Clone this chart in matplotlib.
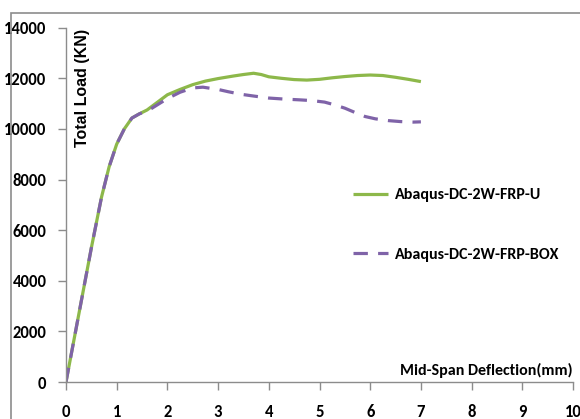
import matplotlib
matplotlib.use("Agg")
import matplotlib.pyplot as plt
from matplotlib.patches import Rectangle

FONT = ["Carlito", "DejaVu Sans"]

# Data
defl_u = [0, 0.25, 0.5, 0.7, 0.85, 1.0, 1.15, 1.3, 1.45, 1.6, 1.8, 2.0, 2.25, 2.5, 2.75, 3.0, 3.3, 3.5, 3.7, 3.85, 4.0, 4.25, 4.5, 4.75, 5.0, 5.25, 5.5, 5.75, 6.0, 6.25, 6.5, 6.75, 7.0]
load_u = [0, 2650, 5300, 7300, 8500, 9400, 10000, 10430, 10600, 10750, 11050, 11350, 11560, 11750, 11890, 11990, 12090, 12150, 12200, 12150, 12060, 12000, 11950, 11930, 11960, 12020, 12070, 12110, 12130, 12110, 12040, 11960, 11870]

defl_box = [0, 0.25, 0.5, 0.7, 0.85, 1.0, 1.15, 1.3, 1.45, 1.6, 1.8, 2.0, 2.25, 2.5, 2.7, 3.0, 3.2, 3.45, 3.7, 4.0, 4.3, 4.6, 4.85, 5.1, 5.3, 5.5, 5.7, 5.9, 6.1, 6.35, 6.6, 6.85, 7.0]
load_box = [0, 2650, 5300, 7300, 8500, 9400, 10000, 10430, 10600, 10700, 10950, 11200, 11450, 11620, 11650, 11560, 11470, 11370, 11300, 11220, 11180, 11150, 11120, 11060, 10950, 10820, 10650, 10490, 10400, 10330, 10290, 10270, 10280]

labels = ["Abaqus-DC-2W-FRP-U", "Abaqus-DC-2W-FRP-BOX"]
x_ticks = list(range(0, 11))
y_ticks = list(range(0, 14001, 2000))

W, H = 580, 419
fig = plt.figure(figsize=(W / 100, H / 100), dpi=100)
fig.patch.set_facecolor("white")

# outer chart frame
fig.patches.append(Rectangle((11 / W, -0.1), 1.2, 1 - 13 / H + 0.1, transform=fig.transFigure,
                             fill=False, edgecolor="#8c8c8c", linewidth=1.2, zorder=0))

ax = fig.add_axes([66 / W, (H - 382) / H, (573 - 66) / W, (382 - 27.7) / H])
ax.set_facecolor("none")

green = "#8DB84A"
purple = "#7F63A8"
ax.plot(defl_u, load_u, color=green, lw=2.3, label=labels[0], solid_capstyle="butt")
ax.plot(defl_box, load_box, color=purple, lw=2.3, linestyle=(0, (4.5, 3.2)), label=labels[1])

ax.set_xlim(0, 10)
ax.set_ylim(0, 14000)
ax.set_xticks(x_ticks)
ax.set_yticks(y_ticks)

for s in ["top", "right"]:
    ax.spines[s].set_visible(False)
for s in ["left", "bottom"]:
    ax.spines[s].set_color("#8c8c8c")
    ax.spines[s].set_linewidth(1.0)

ax.tick_params(axis="both", direction="out", length=6, width=1.0, color="#8c8c8c")
ax.tick_params(axis="x", pad=10)
ax.tick_params(axis="y", pad=8)
for lab in ax.get_xticklabels() + ax.get_yticklabels():
    lab.set_fontfamily(FONT)
    lab.set_fontweight("bold")
    lab.set_fontsize(12)

ax.text(1.0, 4 / (382 - 27.7), "Mid-Span Deflection(mm)", transform=ax.transAxes,
        ha="right", va="bottom", fontsize=11.5, family=FONT, fontweight="bold")

fig.text(82 / W, 1 - 88 / H, "Total Load (KN)", rotation=90, ha="center", va="center",
         fontsize=11.5, family=["Liberation Sans", "DejaVu Sans"], fontweight="bold")

leg = ax.legend(loc="upper left", bbox_to_anchor=(353 / W, 1 - 188 / H), bbox_transform=fig.transFigure,
                frameon=False, borderpad=0, borderaxespad=0, handlelength=2.2, handletextpad=0.4,
                labelspacing=2.85, prop={"family": FONT, "size": 11.5, "weight": "bold"})

fig.savefig("out.png", dpi=100, facecolor="white")
